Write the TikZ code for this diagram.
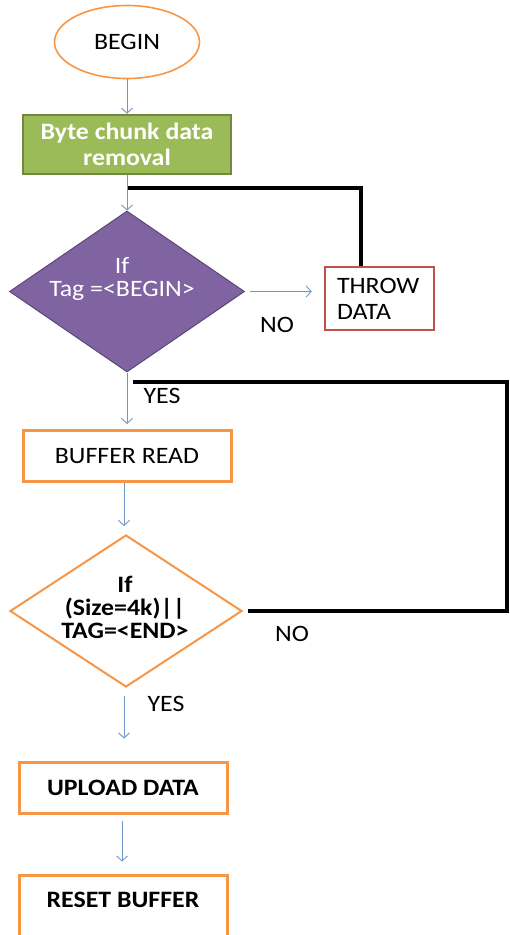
\documentclass[tikz,border=0pt]{standalone}
\usepackage{fontspec}
\setmainfont{Carlito}[FakeStretch=1.1]
\usetikzlibrary{shapes.geometric,arrows.meta,calc}
\definecolor{ora}{HTML}{F79646}
\definecolor{grfill}{HTML}{9BBB59}
\definecolor{grline}{HTML}{71893F}
\definecolor{pufill}{HTML}{8064A2}
\definecolor{puline}{HTML}{5C4776}
\definecolor{redline}{HTML}{C0504D}
\definecolor{arrblue}{HTML}{6F97C9}
\begin{document}
\begin{tikzpicture}[x=1pt,y=-1pt,
  font=\fontsize{23.5}{26}\selectfont,
  flow/.style={draw=arrblue, line width=0.9pt, -{Straight Barb[length=5pt,width=11pt]}},
  blackline/.style={draw=black, line width=4pt},
  obox/.style={rectangle, draw=ora, line width=3pt, minimum width=208pt, minimum height=51pt, inner sep=0pt},
  lbl/.style={inner sep=0pt}
]
\useasboundingbox (0,0) rectangle (510,935);

% nodes
\node[ellipse, draw=ora, line width=1.6pt, minimum width=145pt, minimum height=73pt, inner sep=0pt] (begin) at (127,42) {BEGIN};
\node[rectangle, draw=grline, fill=grfill, line width=2.5pt, minimum width=208pt, minimum height=59pt, text=white, font=\fontsize{23.5}{26}\selectfont\bfseries, align=center, inner sep=0pt] (chunk) at (127,144.5) {Byte chunk data\\removal};
\node[diamond, draw=puline, fill=pufill, line width=1pt, minimum width=235pt, minimum height=161pt, inner sep=0pt] (d1) at (127,291.5) {};
\node[lbl, text=white, align=center, font=\fontsize{23.5}{23}\selectfont] (d1t) at (122,279) {If\\Tag =<BEGIN>};
\node[rectangle, draw=redline, line width=2.5pt, text width=85pt, inner xsep=12pt, minimum height=63pt, align=left] (throw) at (379.5,298.5) {THROW\\DATA};
\node[obox] (read) at (127,456) {BUFFER READ};
\node[diamond, draw=ora, fill=white, line width=2pt, minimum width=232pt, minimum height=152pt, inner sep=0pt] (d2) at (126,611) {};
\node[lbl, align=center, font=\fontsize{23.5}{23}\selectfont\bfseries] (d2t) at (125,607) {If\\(Size=4k)||\\TAG=<END>};
\node[obox, font=\fontsize{23.5}{26}\selectfont\bfseries] (upload) at (123,787.5) {UPLOAD DATA};
\node[obox, minimum height=70pt, text height=17pt, text depth=23pt, font=\fontsize{23.5}{26}\selectfont\bfseries] (reset) at (123,910) {RESET BUFFER};

% labels
\node[lbl] (no1) at (277,325) {NO};
\node[lbl] (yes1) at (162,396) {YES};
\node[lbl] (no2) at (292,634) {NO};
\node[lbl] (yes2) at (166,704) {YES};

% junction coordinates
\coordinate (j1) at (128,188);
\coordinate (j2) at (133,382);
\coordinate (c2) at (507,382);

% connectors
\draw[flow] (begin.south) -- (chunk.north);
\draw[flow] (chunk.south) -- (d1.north);
\draw[flow, shorten <=5pt, shorten >=12pt] (d1.east) -- (d1.east -| throw.west);
\draw[flow, shorten >=5pt] (d1.south) -- (read.north);
\draw[flow, shorten >=8pt] ([xshift=-3pt]read.south) -- ([xshift=-2pt]d2.north);
\draw[flow, shorten <=8pt, shorten >=22pt] ([xshift=-2pt]d2.south) -- ([xshift=1pt]upload.north);
\draw[flow, shorten <=6pt, shorten >=12pt] ([xshift=-1pt]upload.south) -- ([xshift=-1pt]reset.north);

\draw[blackline] ($(throw.north west)+(37,0)$) |- (j1);
\draw[blackline] ([xshift=5pt]d2.east) -| (c2) -- (j2);
\end{tikzpicture}
\end{document}
